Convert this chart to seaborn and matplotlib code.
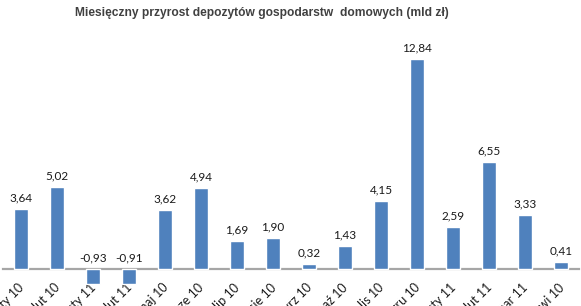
import matplotlib
matplotlib.use('Agg')
import matplotlib.pyplot as plt
import matplotlib.transforms as mtransforms
import seaborn as sns
import pandas as pd

# dane z wykresu
miesiace = ["sty 10", "lut 10", "sty 11", "lut 11", "maj 10", "cze 10", "lip 10", "sie 10",
            "wrz 10", "paź 10", "lis 10", "gru 10", "sty 11", "lut 11", "mar 11", "kwi 10"]
przyrost = [3.64, 5.02, -0.93, -0.91, 3.62, 4.94, 1.69, 1.90,
            0.32, 1.43, 4.15, 12.84, 2.59, 6.55, 3.33, 0.41]

df = pd.DataFrame({"poz": list(range(len(miesiace))), "wartosc": przyrost})

sns.set_style("white")
plt.rcParams['font.family'] = ['Lato', 'DejaVu Sans']

W, H = 581, 306
fig = plt.figure(figsize=(W / 100, H / 100), dpi=100)
# oś w pikselach: 16 kategorii po 36 px, linia zera na y=269
ymin, ymax = -2.0, 14.0
ppu = 16.36
y0 = 269
bottom_px = H - (y0 + (-ymin) * ppu)
height_px = (ymax - ymin) * ppu
ax = fig.add_axes([3 / W, bottom_px / H, 576 / W, height_px / H])

sns.barplot(data=df, x="poz", y="wartosc", color="#4F81BD", width=0.39,
            saturation=1, ax=ax)
ax.set_xlim(-0.5, 15.5)
ax.set_ylim(ymin, ymax)

for i, v in enumerate(przyrost):
    ax.annotate(f"{v:.2f}".replace(".", ","), (i, max(v, 0)), xytext=(0, 4),
                textcoords="offset points", ha="center", va="bottom",
                fontsize=8.5, color="#1a1a1a")

# linia zera jako oś x
for s in ax.spines.values():
    s.set_visible(False)
ax.spines["bottom"].set_visible(True)
ax.spines["bottom"].set_position(("data", 0))
ax.spines["bottom"].set_color("#A6A6A6")
ax.spines["bottom"].set_linewidth(1.6)
ax.spines["bottom"].set_zorder(0)

ax.set_xticks(range(len(miesiace)))
ax.set_xticklabels(miesiace, rotation=45, ha="right", va="center",
                   rotation_mode="anchor", fontsize=9, color="#1a1a1a")
ax.tick_params(axis="x", length=0, pad=12)
off = mtransforms.ScaledTranslation(1 / 100, 0, fig.dpi_scale_trans)
for lab in ax.get_xticklabels():
    lab.set_transform(lab.get_transform() + off)

ax.set_yticks([])
ax.set_xlabel("")
ax.set_ylabel("")

tytul = fig.text(262 / W, 1 - 13 / H, "Miesięczny przyrost depozytów gospodarstw  domowych (mld zł)",
                 ha="center", va="center", fontsize=9.5, fontweight="bold",
                 color="#404040", family="Liberation Sans")
# dopasowanie szerokości tytułu do ok. 370 px
fig.canvas.draw()
szer = tytul.get_window_extent().width
tytul.set_fontsize(9.5 * 370 / szer)

fig.savefig("out.png", dpi=100)
